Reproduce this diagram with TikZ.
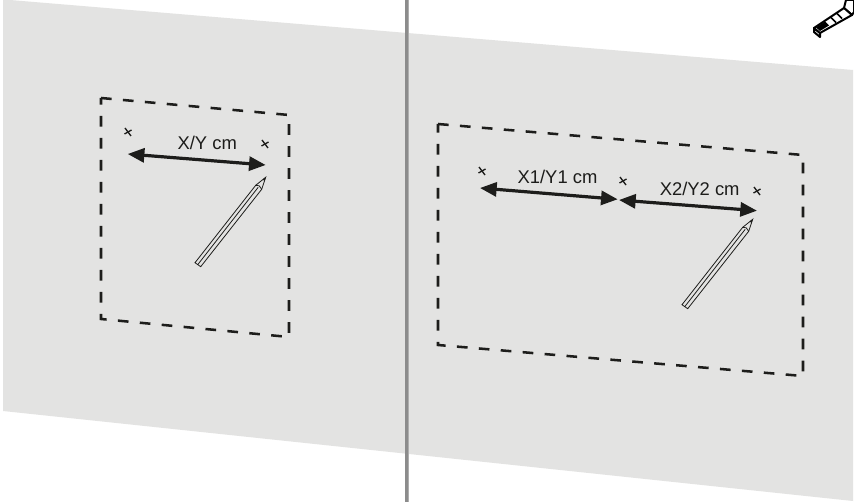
\documentclass[tikz,border=0pt]{standalone}
\usepackage{fontspec}
\setmainfont{Liberation Sans}
\usetikzlibrary{arrows.meta}
\definecolor{wall}{HTML}{E3E3E2}
\definecolor{ink}{HTML}{1D1D1B}
\definecolor{post}{HTML}{8C8C8C}
\tikzset{x=0.75pt,y=-0.75pt,
 frame/.style={draw=ink,line width=1.9pt,dash pattern=on 8pt off 8.5pt},
 dim/.style={draw=ink,line width=2.4pt,{Triangle[length=12.5pt,width=10.5pt]}-{Triangle[length=12.5pt,width=10.5pt]}},
 lab/.style={font=\fontsize{13.8pt}{16pt}\selectfont,text=ink,inner sep=0pt,anchor=base},
 cross/.style={draw=ink,line width=1pt},
 pencilline/.style={draw=ink,line width=0.6pt,line join=miter},
 tape/.style={draw=black,line width=1.5pt,fill=white,line join=round}}
\newcommand{\crossmark}[2]{%
 \draw[cross] (#1-3,#2-4) -- (#1+3,#2+4);
 \draw[cross] (#1+3.5,#2-2) -- (#1-3.5,#2+2);}
\newcommand{\pencil}[2]{% tip at (#1,#2)
 \begin{scope}[shift={(#1,#2)}]
 \draw[pencilline,fill=wall] (0,0) -- (-10,8) -- (-70.7,85.4) -- (-65,89.4) -- (-4,12) -- cycle;
 \draw[pencilline] (-68,87.4) -- (-7.5,10);
 \draw[pencilline] (-10,8) -- (-6.5,8.5) -- (-4,12);
 \fill[ink] (0,0) -- (-3,2) -- (-1.2,4) -- cycle;
 \end{scope}}
\begin{document}
\begin{tikzpicture}
\useasboundingbox (0,0) rectangle (854,502);
\fill[white] (0,0) rectangle (854,502);
\fill[wall] (3,0) -- (10,0) -- (853,70) -- (853,501) -- (3,411) -- cycle;
\fill[post!70!white] (405,0) rectangle (409,502);
\fill[post] (405,0) rectangle (408,502);
% left
\draw[frame] (101,98) -- (289,115) -- (289,337) -- (101,319) -- cycle;
\crossmark{128}{132}
\crossmark{265}{144}
\coordinate (a1) at (127.7,154);
\coordinate (a2) at (265.7,165);
\draw[dim] (a1) -- (a2);
\node[lab] (t1) at (207.2,149.3) {X/Y cm};
\pencil{265.7}{177.3}
% right
\draw[frame] (438,124) -- (803,155) -- (803,376) -- (438,345) -- cycle;
\crossmark{482}{171}
\crossmark{623}{181}
\crossmark{757}{191}
\coordinate (b1) at (480,188);
\coordinate (b2) at (617.7,199.3);
\coordinate (b3) at (619,200);
\coordinate (b4) at (757,210.7);
\draw[dim] (b1) -- (b2);
\draw[dim] (b3) -- (b4);
\node[lab] (t2) at (557.5,183.3) {X1/Y1 cm};
\node[lab] (t3) at (699.7,195.3) {X2/Y2 cm};
\pencil{752.7}{219.3}
% tape measure
\draw[tape] (844,8) -- (846,0) -- (854,0) -- (854,12) -- (852,15) -- cycle;
\draw[tape] (814,28) -- (814,32) -- (820,37) -- (820,33) -- cycle;
\draw[tape] (814,28) -- (844,8) -- (852,15) -- (820,33) -- cycle;
\fill[black] (816,27.5) -- (825,21.5) -- (829,25.5) -- (820,31) -- cycle;
\draw[black,line width=1.1pt] (831,17.5) -- (836,22.5) (837,13.5) -- (842,18.5);
\end{tikzpicture}
\end{document}
